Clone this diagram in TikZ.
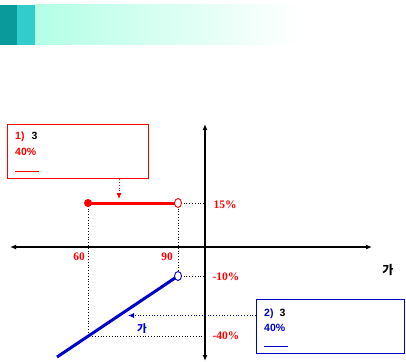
\documentclass[tikz,border=0pt]{standalone}
\usepackage{fontspec}
\setmainfont{Liberation Serif}
\newfontfamily\sansbf{Liberation Sans}
\newfontfamily\kr{Noto Sans CJK KR}
\usetikzlibrary{arrows.meta,shapes.geometric}
\definecolor{tealdark}{RGB}{10,154,154}
\definecolor{teallight}{RGB}{51,204,204}
\definecolor{mint}{RGB}{179,255,230}
\definecolor{darkblue}{RGB}{0,0,204}
\begin{document}
\begin{tikzpicture}[x=1pt,y=-1pt,
    dot/.style={circle,fill=red,inner sep=0pt,minimum size=8pt},
    hole/.style={ellipse,fill=white,line width=0.9pt,inner sep=0pt,minimum width=7pt,minimum height=9pt},
    guide/.style={dotted,line width=0.8pt},
    num/.style={font=\bfseries\fontsize{11.5}{11.5}\selectfont,text=red},
    note/.style={font=\sansbf\bfseries\fontsize{10.5}{12}\selectfont,anchor=base west,inner sep=0pt},
    tip/.style={-{Latex[length=6pt,width=5pt]}}]
  \useasboundingbox (0,0) rectangle (406,361);
  % header band
  \fill[tealdark] (0,5) rectangle (17,45);
  \fill[teallight] (17,5) rectangle (35,45);
  \shade[left color=mint,right color=white] (35,5) rectangle (300,45);
  % axes
  \coordinate (xl) at (10,247);
  \coordinate (xr) at (372,247);
  \coordinate (yt) at (205,124);
  \coordinate (yb) at (205,361);
  \draw[line width=1.2pt,{Latex[length=6pt,width=5pt]}-{Latex[length=6pt,width=5pt]}] (xl) -- (xr);
  \draw[line width=1.2pt,{Latex[length=6pt,width=5pt]}-{Latex[length=6pt,width=5pt]}] (yb) -- (yt);
  % guide points
  \coordinate (y15) at (205,203);
  \coordinate (y10) at (205,276);
  \coordinate (y40) at (205,336);
  \coordinate (c60) at (88,336);
  \coordinate (qend) at (57,357);
  % guides
  \draw[guide] (88,203) -- (c60) -- (y40);
  \draw[guide] (178,203) -- (y15);
  \draw[guide] (178,203) -- (178,276);
  \draw[guide] (178,276) -- (y10);
  % segments
  \draw[red,line width=3pt] (88,203) -- (178,203);
  \draw[darkblue,line width=3pt] (qend) -- (178,276);
  \node[dot] (p60) at (88,203) {};
  \node[hole,draw=red] (p90) at (178,203) {};
  \node[hole,draw=darkblue] (q90) at (178,276) {};
  % labels
  \node[num] (l15) at (225,204.5) {15\%};
  \node[num] (l10) at (226,277) {-10\%};
  \node[num] (l40) at (226,336) {-40\%};
  \node[num] (l60) at (79,257) {60};
  \node[num] (l90) at (167,257) {90};
  \node[font=\kr\bfseries\fontsize{12}{12}\selectfont] (xname) at (388,269.5) {가};
  % red note
  \node[draw=red,line width=1.2pt,minimum width=141pt,minimum height=54pt,anchor=north west] (boxa) at (7,124) {};
  \node[note] (a1) at (15,139) {\textcolor{red}{1)}\hspace{7pt}3};
  \node[note,text=red] (a2) at (15,155.5) {40\%};
  \draw[red,line width=0.8pt] (15,171) -- (39,171);
  \coordinate (ta) at (119,199);
  \draw[red,guide,tip] (boxa.south -| ta) -- (ta);
  % blue note
  \node[draw=darkblue,line width=1.2pt,minimum width=148pt,minimum height=54pt,anchor=north west] (boxb) at (256,299) {};
  \node[note] (b1) at (264,316) {\textcolor{darkblue}{2)}\hspace{6pt}3};
  \node[note,text=darkblue] (b2) at (264,331.5) {40\%};
  \draw[darkblue,line width=0.8pt] (264,346) -- (288,346);
  \coordinate (tb) at (128,315.5);
  \draw[darkblue,guide,tip] (boxb.west |- tb) -- (tb);
  \node[font=\kr\bfseries\fontsize{10.5}{10.5}\selectfont,text=darkblue] (bname) at (142,328.5) {가};
\end{tikzpicture}
\end{document}
